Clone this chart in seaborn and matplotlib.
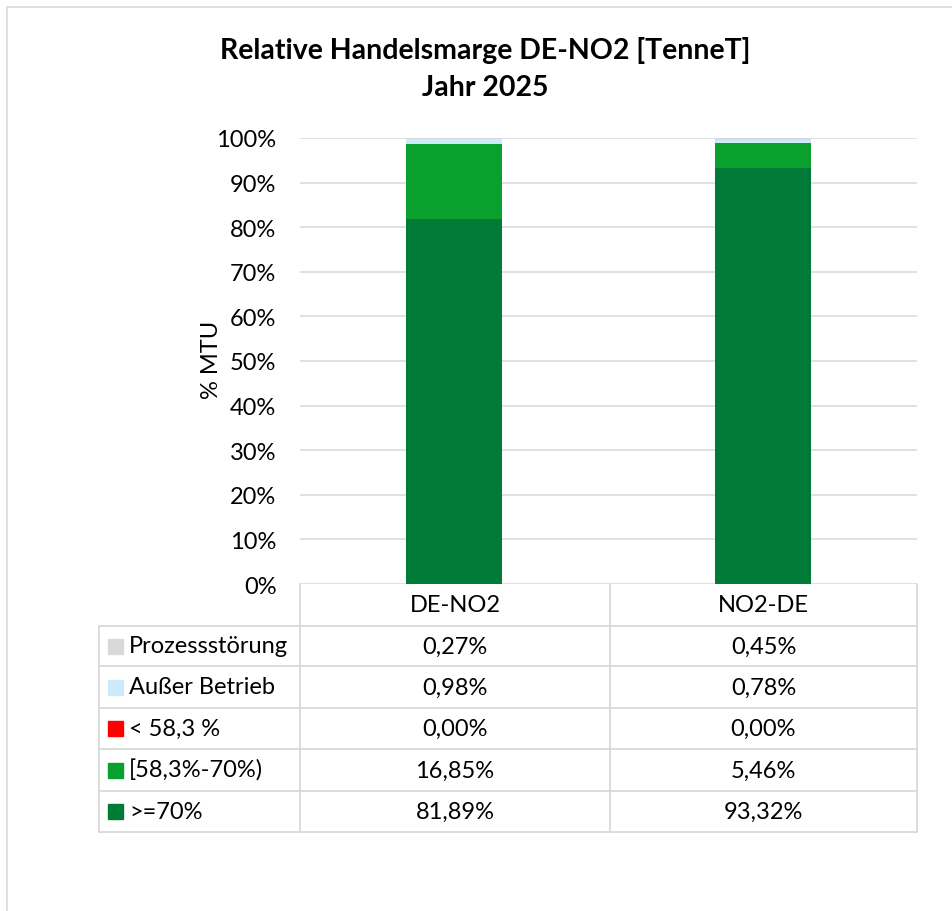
import numpy as np
import pandas as pd
import matplotlib
matplotlib.use("Agg")
import matplotlib.pyplot as plt
import seaborn as sns

# data (percent of MTU)
categories = ["DE-NO2", "NO2-DE"]
series = ["Prozessstörung", "Außer Betrieb", "< 58,3 %", "[58,3%-70%)", ">=70%"]
prozess = [0.27, 0.45]
ausser_betrieb = [0.98, 0.78]
unter_583 = [0.00, 0.00]
von_583_bis_70 = [16.85, 5.46]
ab_70 = [81.89, 93.32]
colors = ["#D9D9D9", "#CCEBFA", "#FF0000", "#09A02E", "#007A37"]
yticks = [0, 10, 20, 30, 40, 50, 60, 70, 80, 90, 100]

values = {
    "Prozessstörung": prozess,
    "Außer Betrieb": ausser_betrieb,
    "< 58,3 %": unter_583,
    "[58,3%-70%)": von_583_bis_70,
    ">=70%": ab_70,
}
col = dict(zip(series, colors))

sns.set_theme(style="white")
plt.rcParams["font.family"] = ["Lato", "DejaVu Sans"]
plt.rcParams["text.color"] = "black"
plt.rcParams["ytick.color"] = "black"
plt.rcParams["ytick.labelcolor"] = "black"

W, H = 952, 912
fs = 17
fig = plt.figure(figsize=(W / 100, H / 100), dpi=100)

def fpos(x0, y0, x1, y1):
    # pixel box -> figure fraction
    return [x0 / W, 1 - y1 / H, (x1 - x0) / W, (y1 - y0) / H]

grid_c = "#D9D9D9"

# outer chart border (bottom/right run off the image)
fig.patches.append(plt.Rectangle((7 / W, -0.05), 1.1, 1.05 - 8 / H, transform=fig.transFigure,
                                 fill=False, edgecolor=grid_c, linewidth=1.2))

ax = fig.add_axes(fpos(300, 139, 917, 585))
bottom = np.zeros(len(categories))
for name in series[::-1]:
    df = pd.DataFrame({"cat": categories, "val": values[name]})
    sns.barplot(data=df, x="cat", y="val", bottom=bottom, color=col[name], width=0.31,
                saturation=1, edgecolor="none", linewidth=0, ax=ax, zorder=3)
    bottom = bottom + np.array(values[name])

ax.set_ylim(0, 100)
ax.set_xlim(-0.5, len(categories) - 0.5)
ax.set_yticks(yticks)
ax.set_yticklabels([f"{t}%" for t in yticks], fontsize=fs, color="black")
ax.tick_params(axis="y", length=0, pad=17)
ax.set_xticks([])
ax.set_xlabel("")
ax.set_ylabel("")
ax.grid(axis="y", color=grid_c, linewidth=1.1, zorder=0)
for s in ax.spines.values():
    s.set_visible(False)

fig.text(211 / W, 1 - 360 / H, "% MTU", rotation=90, ha="center", va="center", fontsize=fs)
fig.text(485 / W, 1 - 50 / H, "Relative Handelsmarge DE-NO2 [TenneT]", ha="center", va="center",
         fontsize=20.5, fontweight="bold")
fig.text(485 / W, 1 - 88 / H, "Jahr 2025", ha="center", va="center", fontsize=20.5, fontweight="bold")

# data table below the plot
tx = fig.add_axes(fpos(99, 585, 917, 834))
tx.set_xlim(99, 917)
tx.set_ylim(834, 585)
tx.axis("off")
col_edges = [300, 610, 917]
row_edges = [627, 667, 709, 750, 792, 833]
lw = 1.3
for xe in col_edges:
    tx.plot([xe, xe], [585, 833], color=grid_c, lw=lw, clip_on=False)
tx.plot([99, 99], [627, 833], color=grid_c, lw=lw, clip_on=False)
for ye in row_edges:
    tx.plot([99, 917], [ye, ye], color=grid_c, lw=lw, clip_on=False)

centers = [(col_edges[i] + col_edges[i + 1]) / 2 for i in range(len(categories))]
for c, xc in zip(categories, centers):
    tx.text(xc, 606, c, ha="center", va="center", fontsize=fs)

for i, name in enumerate(series):
    yc = (row_edges[i] + row_edges[i + 1]) / 2
    tx.add_patch(plt.Rectangle((108, yc - 7.5), 15, 15, color=col[name], clip_on=False))
    tx.text(129, yc, name, ha="left", va="center", fontsize=fs)
    for xc, v in zip(centers, values[name]):
        tx.text(xc, yc, f"{v:.2f}%".replace(".", ","), ha="center", va="center", fontsize=fs)

fig.savefig("out.png", dpi=100)
